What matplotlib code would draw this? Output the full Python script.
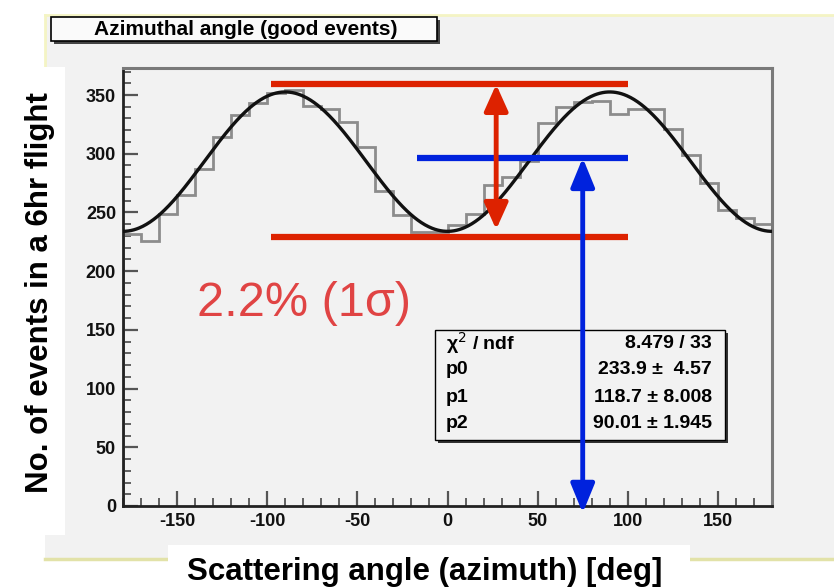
import numpy as np
import matplotlib
matplotlib.use("Agg")
import matplotlib.pyplot as plt
from matplotlib.patches import Rectangle
from matplotlib.ticker import MultipleLocator

plt.rcParams['font.family'] = ['Liberation Sans', 'DejaVu Sans']
plt.rcParams['axes.unicode_minus'] = False

# ---- data ----
bin_edges = np.arange(-180, 181, 10)
counts = [232, 226, 249, 265, 287, 314, 333, 343, 352, 354,
          341, 338, 327, 306, 268, 248, 233, 233, 239, 249,
          273, 280, 294, 326, 340, 344, 345, 334, 338, 338,
          321, 299, 275, 252, 245, 240]
fit_p0, fit_p1, fit_p2 = 233.9, 118.7, 90.01
stats_rows = [("χ$^{2}$ / ndf", "8.479 / 33"),
              ("p0", "233.9 ±  4.57"),
              ("p1", "118.7 ± 8.008"),
              ("p2", "90.01 ± 1.945")]
title = "Azimuthal angle (good events)"
xlabel = "Scattering angle (azimuth) [deg]"
ylabel = "No. of events in a 6hr flight"
note = "2.2% (1σ)"
# annotation levels (data units)
red_top, red_bot = 359.5, 229.0
red_x0, red_x1 = -98, 100
red_arrow_x, red_arrow_top, red_arrow_bot = 27, 359, 235.5
blue_level, blue_x0, blue_x1 = 296.5, -17, 100
blue_arrow_x, blue_arrow_bot = 75, -6

W, H = 834, 588
fig = plt.figure(figsize=(W / 100, H / 100), dpi=100)
fig.patch.set_facecolor('white')


def fx(x):
    return x / W


def fy(y):
    return 1 - y / H


def rect(x0, y0, x1, y1):
    return (fx(x0), fy(y1)), fx(x1) - fx(x0), fy(y0) - fy(y1)


def frect(x0, y0, x1, y1, **kw):
    xy, w, h = rect(x0, y0, x1, y1)
    r = Rectangle(xy, w, h, transform=fig.transFigure, **kw)
    fig.patches.append(r)
    return r


# canvas background
frect(45, 15, 834, 559, facecolor='#f2f2f2', edgecolor='none', zorder=0)
fig.add_artist(plt.Line2D([fx(45), fx(834)], [fy(15), fy(15)], color='#f4f4c4', lw=2, transform=fig.transFigure, zorder=1))
fig.add_artist(plt.Line2D([fx(45), fx(45)], [fy(15), fy(67)], color='#f4f4c4', lw=2, transform=fig.transFigure, zorder=1))
fig.add_artist(plt.Line2D([fx(45), fx(834)], [fy(559), fy(559)], color='#e2e2a8', lw=2.5, transform=fig.transFigure, zorder=1))
# white label boxes
frect(0, 67, 65, 535, facecolor='white', edgecolor='none', zorder=2)
frect(168, 545, 690, 588, facecolor='white', edgecolor='none', zorder=2)

# title box
frect(54, 20, 440, 44, facecolor='#444444', edgecolor='none', zorder=3)
frect(51, 17, 437, 41, facecolor='#fafafa', edgecolor='black', lw=1.2, zorder=4)
fig.text(fx(246), fy(29.5), title, ha='center', va='center', fontsize=15,
         fontweight='bold', zorder=5)

# axes
ax = fig.add_axes([fx(123), fy(506), fx(772) - fx(123), fy(68) - fy(506)])
ax.set_zorder(3)
ax.set_facecolor('#f2f2f2')
ax.set_xlim(-180, 180)
ax.set_ylim(0, 373)

ax.stairs(counts, bin_edges, color='#8c8c8c', lw=2, zorder=2)
xf = np.linspace(-180, 180, 721)
yf = fit_p0 + fit_p1 * np.cos(np.deg2rad(xf - fit_p2)) ** 2
ax.plot(xf, yf, color='#111111', lw=2.4, zorder=3)

for s in ['left', 'bottom']:
    ax.spines[s].set_color('#222222')
    ax.spines[s].set_linewidth(2)
for s in ['top', 'right']:
    ax.spines[s].set_color('#7a7a7a')
    ax.spines[s].set_linewidth(2.2)

ax.xaxis.set_major_locator(MultipleLocator(50))
ax.xaxis.set_minor_locator(MultipleLocator(10))
ax.yaxis.set_major_locator(MultipleLocator(50))
ax.yaxis.set_minor_locator(MultipleLocator(10))
ax.tick_params(which='both', direction='in', colors='#555555', labelcolor='#111111')
ax.tick_params(which='major', length=11, width=1.6, labelsize=13)
ax.tick_params(which='minor', length=5.5, width=1.3)
ax.tick_params(axis='x', pad=5)
ax.tick_params(axis='y', pad=5)
for lab in ax.get_xticklabels() + ax.get_yticklabels():
    lab.set_fontweight('bold')

# stats box (inside axes so the blue arrow passes over it)
xy, w, h = rect(438, 333, 728, 443)
ax.add_patch(Rectangle(xy, w, h, transform=fig.transFigure, clip_on=False,
                       facecolor='#333333', edgecolor='none', zorder=4))
xy, w, h = rect(435, 330, 725, 440)
ax.add_patch(Rectangle(xy, w, h, transform=fig.transFigure, clip_on=False,
                       facecolor='#f2f2f2', edgecolor='black', lw=1.0, zorder=4.1))
row_y = [343, 370, 397, 424]
for (lbl, val), yy in zip(stats_rows, row_y):
    ax.text(fx(446), fy(yy), lbl, ha='left', va='center', fontsize=14,
            fontweight='bold', transform=fig.transFigure, zorder=4.5)
    ax.text(fx(712), fy(yy), val, ha='right', va='center', fontsize=14,
            fontweight='bold', transform=fig.transFigure, zorder=4.5)

# annotations
ax.plot([red_x0, red_x1], [red_top, red_top], color='#dd2200', lw=4.5, zorder=5, solid_capstyle='butt')
ax.plot([red_x0, red_x1], [red_bot, red_bot], color='#dd2200', lw=4.5, zorder=5, solid_capstyle='butt')
ax.plot([blue_x0, blue_x1], [blue_level, blue_level], color='#0022dd', lw=4.5, zorder=5, solid_capstyle='butt')
ax.annotate('', xy=(red_arrow_x, red_arrow_top), xytext=(red_arrow_x, red_arrow_bot),
            arrowprops=dict(arrowstyle='<|-|>,head_length=1.0,head_width=0.45', lw=3.5,
                            color='#dd2200', mutation_scale=16, shrinkA=0, shrinkB=0),
            zorder=6, annotation_clip=False)
ax.annotate('', xy=(blue_arrow_x, blue_level), xytext=(blue_arrow_x, blue_arrow_bot),
            arrowprops=dict(arrowstyle='<|-|>,head_length=1.1,head_width=0.45', lw=3.5,
                            color='#0022dd', mutation_scale=16, shrinkA=0, shrinkB=0),
            zorder=6, annotation_clip=False)

fig.text(fx(197), fy(303), note, ha='left', va='center', fontsize=35,
         color='#e04444', zorder=6)

fig.text(fx(425), fy(572), xlabel, ha='center', va='center', fontsize=22.5,
         fontweight='bold', zorder=6)
fig.text(fx(40), fy(293), ylabel, ha='center', va='center', fontsize=22.5,
         fontweight='bold', rotation=90, zorder=6)

fig.savefig('out.png', dpi=100, facecolor=fig.get_facecolor())
